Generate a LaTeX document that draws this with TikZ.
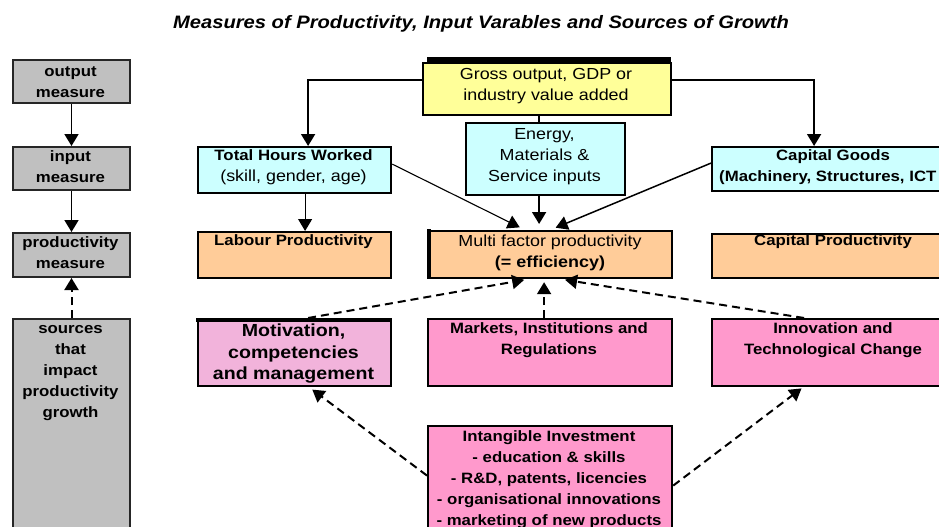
\documentclass[tikz,border=0pt]{standalone}
\usepackage{fontspec}
\setmainfont{Liberation Sans}[FakeStretch=1.12]
\usetikzlibrary{arrows.meta}
\definecolor{boxgray}{HTML}{C0C0C0}
\definecolor{inputcyan}{HTML}{CCFFFF}
\definecolor{outyellow}{HTML}{FFFF99}
\definecolor{prodorange}{HTML}{FFCC99}
\definecolor{srcpink}{HTML}{FF99CC}
\definecolor{motpink}{HTML}{F2B3DB}
\tikzset{
  box/.style={draw=black, line width=2.2pt, rectangle, inner sep=0pt},
  graybox/.style={draw=black!85, line width=2pt, fill=boxgray, rectangle, inner sep=0pt},
  txt/.style={align=center, inner sep=0pt, font=\fontsize{16}{21}\selectfont},
  btxt/.style={txt, font=\fontsize{15}{21}\selectfont\bfseries},
  tip/.style={-{Triangle[width=14pt,length=12pt]}},
  arr/.style={line width=1.8pt, tip},
  thinarr/.style={line width=1.1pt, tip},
  dasharr/.style={line width=2pt, dash pattern=on 8pt off 5pt, tip},
}
\newcommand{\boxat}[6]{% style, name, x0, y0, x1, y1
  \node[#1, anchor=north west, minimum width=#5-#3, minimum height=#6-#4] (#2) at (#3,#4) {};}
\begin{document}
\begin{tikzpicture}[x=1pt,y=-1pt]
\useasboundingbox (0,0) rectangle (939,527);
\clip (0,0) rectangle (939,527);

% title
\node[txt, font=\fontsize{18}{21}\selectfont\bfseries\itshape] (title) at (481,24)
  {Measures of Productivity, Input Varables and Sources of Growth};

% left column: kinds of measure
\boxat{graybox}{outm}{12}{59}{129}{102}
\boxat{graybox}{inm}{12}{146}{129}{189}
\boxat{graybox}{prodm}{12}{232}{129}{276}
\boxat{graybox}{srcm}{12}{318}{129}{545}
\node[btxt] (outm-t) at (70.5,82) {output\\measure};
\node[btxt] (inm-t) at (70.5,167) {input\\measure};
\node[btxt] (prodm-t) at (70.5,253) {productivity\\measure};
\node[btxt, anchor=north] (srcm-t) at (70.5,325) {sources\\that\\impact\\productivity\\growth};

% output
\boxat{box, fill=outyellow}{gross}{422}{62}{670}{114}
\draw[line width=5pt] (427,60) -- (671.1,60);
\node[txt] (gross-t) at (546,86) {Gross output, GDP or\\industry value added};

% inputs
\boxat{box, fill=inputcyan}{hours}{197}{146}{390}{192}
\node[txt] (hours-t) at (293.5,167) {{\fontsize{15}{21}\selectfont\bfseries Total Hours Worked}\\(skill, gender, age)};
\boxat{box, fill=inputcyan}{energy}{465}{122}{624}{194}
\node[txt] (energy-t) at (544.5,157) {Energy,\\Materials \&\\Service inputs};
\boxat{box, fill=inputcyan}{capg}{711}{146}{955}{190}
\node[btxt] (capg-t1) at (833,157) {Capital Goods};
\node[btxt, anchor=west] (capg-t2) at (719,178) {(Machinery, Structures, ICT};

% productivity measures
\boxat{box, fill=prodorange}{labp}{197}{231}{390}{277}
\node[btxt] (labp-t) at (293.5,242) {Labour Productivity};
\boxat{box, fill=prodorange}{mfp}{427}{230}{671}{277}
\draw[line width=4pt] (429,229) -- (429,278);
\node[txt] (mfp-t) at (550,253) {Multi factor productivity\\{\bfseries (= efficiency)}};
\boxat{box, fill=prodorange}{capp}{711}{233}{955}{277}
\node[btxt] (capp-t) at (833,242) {Capital Productivity};

% sources of growth
\boxat{box, fill=motpink}{motiv}{197}{318}{390}{385}
\draw[line width=4.5pt] (196,320) -- (391.1,320);
\node[txt, font=\fontsize{17.5}{21.5}\selectfont\bfseries] (motiv-t) at (293.5,354) {Motivation,\\competencies\\and management};
\boxat{box, fill=srcpink}{mkts}{427}{318}{671}{385}
\node[btxt] (mkts-t) at (549,340.5) {Markets, Institutions and\\Regulations};
\boxat{box, fill=srcpink}{innov}{711}{318}{955}{385}
\node[btxt] (innov-t) at (833,340.5) {Innovation and\\Technological Change};
\boxat{box, fill=srcpink}{intan}{427}{425}{671}{545}
\node[btxt, anchor=north] (intan-t) at (549,430.5) {Intangible Investment\\- education \& skills\\- R\&D, patents, licencies\\- organisational innovations\\- marketing of new products};

% measure chain
\draw[arr] (outm) -- (inm);
\draw[arr] (inm) -- (prodm);
\draw[dasharr] (srcm) -- (prodm);

% output splits into the inputs
\draw[arr] ([yshift=9pt]gross.west) -| ([xshift=13.5pt]hours.north);
\draw[arr] ([yshift=9pt]gross.east) -| ([xshift=-20pt]capg.north);
\draw[line width=1.8pt] ([xshift=-6.5pt]energy.north) -- ([xshift=-6.5pt]energy.north |- gross.south);

% inputs feed productivity
\draw[thinarr] ([xshift=10.5pt]hours.south) -- ([xshift=10.5pt]labp.north);
\draw[arr, shorten >=6pt] ([xshift=-6.5pt]energy.south) -- ([xshift=-11pt]mfp.north);
\draw[thinarr, shorten >=6pt] ([yshift=6pt]hours.east) -- ([xshift=-25pt]mfp.north);
\draw[arr, line width=1.5pt, shorten >=6pt] ([yshift=6pt]capg.west) -- ([xshift=0pt]mfp.north);

% sources act on multi factor productivity
\draw[dasharr, shorten >=4pt] ([xshift=13.5pt]motiv.north) -- ([xshift=-22pt]mfp.south);
\draw[dasharr, shorten >=3pt] ([xshift=-6pt]mkts.north) -- ([xshift=-6pt]mfp.south);
\draw[dasharr, shorten >=4pt] ([xshift=-30pt]innov.north) -- ([xshift=11pt]mfp.south);

% intangible investment feeds the other sources
\draw[dasharr, shorten >=4pt] ([yshift=10.5pt]intan.west) -- ([xshift=14.5pt]motiv.south);
\draw[dasharr, shorten >=2pt] ([yshift=0.5pt]intan.east) -- ([xshift=-31pt]innov.south);
\end{tikzpicture}
\end{document}
